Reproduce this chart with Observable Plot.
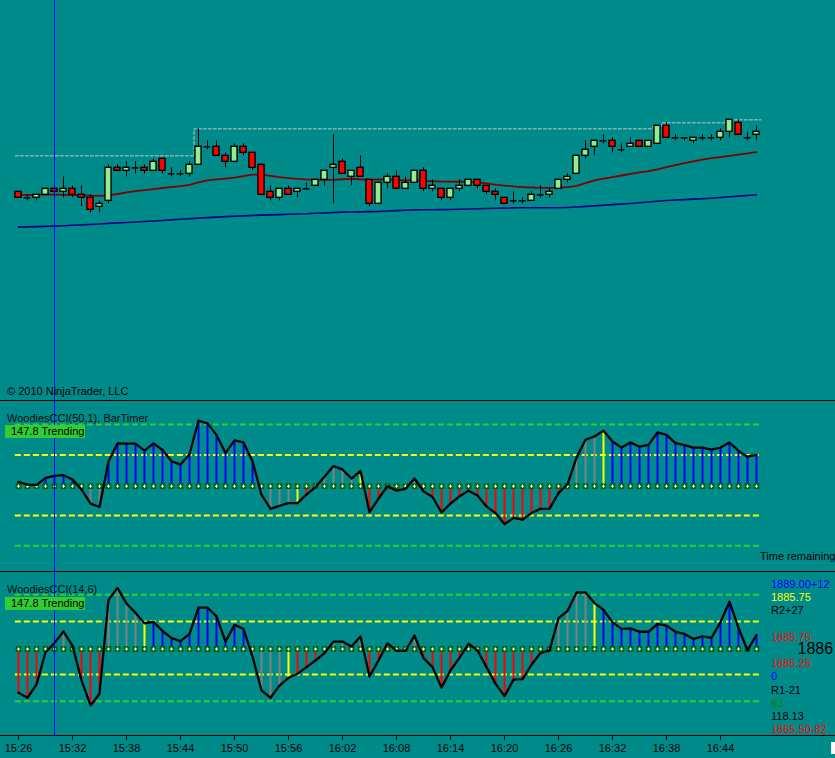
<!DOCTYPE html>
<html><head><meta charset="utf-8">
<script src="https://cdn.jsdelivr.net/npm/d3@7"></script>
<script src="https://cdn.jsdelivr.net/npm/@observablehq/plot@0.6"></script>
<style>
html,body{margin:0;padding:0;background:#008B8B;}
#wrap{position:relative;width:835px;height:758px;overflow:hidden;background:#008B8B;font-family:Arial,"Liberation Sans",sans-serif;font-size:11px;color:#000;}
.sep{height:1px;background:#000;width:835px;}
.lbl{position:absolute;white-space:nowrap;line-height:11px;font-size:11px;}
#wrap svg{display:block}
</style></head><body><div id="wrap"></div>
<script>
// ---- data ----
const tickLabels = ["15:26","15:32","15:38","15:44","15:50","15:56","16:02","16:08","16:14","16:20","16:26","16:32","16:38","16:44"];
const cursorBar = 4;        // 15:30
const priorHigh = 1886.00;
const open = [1883.00,1882.50,1882.50,1882.75,1883.25,1883.00,1883.25,1882.75,1882.50,1881.75,
1882.25,1885.00,1884.75,1885.00,1885.00,1884.75,1885.75,1884.50,1884.50,1884.50,
1885.25,1886.75,1886.75,1886.00,1885.50,1886.75,1886.25,1885.25,1883.00,1882.50,
1883.25,1883.00,1883.25,1883.50,1884.00,1885.00,1885.50,1884.25,1885.00,1884.00,
1882.00,1883.75,1884.25,1883.25,1883.75,1884.75,1883.25,1883.25,1882.50,1883.25,
1883.50,1884.00,1883.50,1883.00,1882.50,1882.25,1882.25,1882.25,1882.75,1882.75,
1883.25,1884.00,1884.50,1886.00,1886.75,1887.25,1887.25,1886.50,1886.75,1887.25,
1886.75,1887.00,1888.50,1887.50,1887.50,1887.25,1887.50,1887.50,1887.50,1888.00,
1888.75,1887.50,1887.75];
const high = [1883.00,1882.75,1882.75,1883.25,1883.25,1884.25,1883.50,1883.50,1882.75,1882.25,
1885.25,1885.25,1885.50,1885.50,1885.25,1885.75,1885.75,1885.00,1884.75,1885.50,
1888.25,1887.25,1887.25,1886.25,1887.00,1887.00,1886.25,1885.25,1883.50,1883.25,
1883.50,1883.25,1883.75,1884.00,1884.75,1887.75,1885.75,1884.75,1886.00,1884.00,
1883.75,1884.50,1884.75,1884.25,1884.75,1885.00,1884.00,1883.25,1883.25,1884.00,
1884.00,1884.00,1883.50,1883.25,1882.50,1883.00,1882.50,1883.00,1883.50,1883.25,
1884.00,1884.50,1886.00,1887.25,1887.25,1887.75,1887.50,1887.00,1887.50,1887.25,
1887.25,1888.50,1888.75,1887.75,1887.50,1887.50,1887.75,1887.75,1888.25,1889.00,
1889.00,1888.00,1888.50];
const low = [1882.50,1882.25,1882.25,1882.75,1883.00,1882.50,1882.50,1881.75,1881.25,1881.25,
1882.00,1884.75,1884.25,1884.50,1884.50,1884.75,1884.50,1884.25,1884.25,1884.25,
1885.25,1886.50,1886.00,1885.00,1885.50,1886.00,1884.75,1882.75,1882.25,1882.25,
1882.75,1882.50,1883.25,1883.50,1883.50,1882.00,1884.50,1883.50,1884.25,1881.75,
1882.00,1883.25,1883.25,1883.25,1883.75,1883.00,1883.00,1882.25,1882.25,1883.00,
1883.50,1883.25,1882.75,1882.25,1882.00,1882.00,1882.00,1882.25,1882.50,1882.50,
1883.25,1883.75,1884.50,1885.75,1886.00,1887.00,1886.25,1886.25,1886.75,1886.75,
1886.75,1887.00,1887.50,1887.25,1887.25,1887.00,1887.25,1887.25,1887.25,1887.50,
1887.75,1887.25,1887.25];
const close = [1882.50,1882.50,1882.75,1883.25,1883.00,1883.25,1882.75,1882.50,1881.50,1882.00,
1885.00,1884.75,1885.00,1885.00,1884.75,1885.50,1884.75,1884.50,1884.50,1885.25,
1886.75,1886.75,1886.00,1885.50,1886.75,1886.25,1885.00,1882.75,1882.50,1883.25,
1882.75,1883.25,1883.25,1884.00,1884.75,1885.25,1884.50,1884.75,1884.25,1882.00,
1883.75,1884.25,1883.25,1883.75,1884.75,1883.25,1883.50,1882.50,1883.25,1883.50,
1884.00,1883.50,1883.00,1882.75,1882.00,1882.25,1882.25,1882.75,1882.75,1883.00,
1884.00,1884.25,1886.00,1886.50,1887.25,1887.25,1886.75,1886.50,1887.00,1886.75,
1887.25,1888.50,1887.50,1887.50,1887.50,1887.50,1887.50,1887.50,1888.00,1889.00,
1887.75,1887.50,1888.00];
const maFast = [1882.75,1882.75,1882.75,1882.76,1882.76,1882.75,1882.73,1882.70,1882.68,1882.67,
1882.70,1882.82,1882.95,1883.05,1883.15,1883.23,1883.32,1883.40,1883.48,1883.58,
1883.78,1883.95,1884.03,1884.10,1884.18,1884.30,1884.43,1884.43,1884.33,1884.23,
1884.15,1884.08,1884.03,1884.00,1884.00,1884.00,1884.05,1884.08,1884.05,1884.00,
1884.03,1884.00,1883.97,1883.95,1883.95,1883.92,1883.88,1883.85,1883.85,1883.84,
1883.83,1883.78,1883.70,1883.60,1883.52,1883.45,1883.40,1883.36,1883.33,1883.33,
1883.33,1883.40,1883.50,1883.72,1883.95,1884.10,1884.23,1884.36,1884.50,1884.62,
1884.73,1884.88,1885.05,1885.22,1885.40,1885.54,1885.68,1885.80,1885.90,1886.00,
1886.10,1886.20,1886.30];
const maSlow = [1880.06,1880.08,1880.10,1880.12,1880.14,1880.17,1880.21,1880.25,1880.28,1880.32,
1880.37,1880.41,1880.45,1880.49,1880.53,1880.57,1880.61,1880.66,1880.71,1880.76,
1880.81,1880.85,1880.89,1880.93,1880.97,1881.00,1881.03,1881.06,1881.08,1881.10,
1881.13,1881.15,1881.17,1881.21,1881.24,1881.28,1881.31,1881.32,1881.33,1881.35,
1881.36,1881.40,1881.43,1881.47,1881.50,1881.51,1881.51,1881.52,1881.53,1881.55,
1881.57,1881.59,1881.61,1881.63,1881.64,1881.66,1881.67,1881.67,1881.67,1881.67,
1881.67,1881.70,1881.74,1881.79,1881.83,1881.88,1881.93,1881.98,1882.03,1882.09,
1882.15,1882.22,1882.28,1882.32,1882.35,1882.39,1882.42,1882.47,1882.53,1882.59,
1882.64,1882.70,1882.75];
const cci50 = [11,2,0,24,31,33,19,-14,-61,-72,
78,138,137,137,114,138,116,79,68,102,
213,204,166,106,148,141,79,-31,-78,-68,
-59,-59,-31,-6,28,63,52,22,47,-89,
-44,-3,-18,-12,22,-20,-39,-90,-61,-37,
-18,-34,-70,-92,-129,-108,-114,-92,-78,-78,
-26,3,91,150,161,180,144,124,141,127,
133,174,166,139,132,124,124,117,124,141,
113,94,100];
const cci50State = "bbbbbbbggg"+"bbbbbbbbbb"+"bbbbbbbggg"+"gyrrggggyr"+"rrrrgrrrrr"+"rrrrrrrrrr"+"rggggybbbb"+"bbbbbbbbbb"+"bbb";
const cci14 = [-168,-187,-137,-16,19,62,9,-122,-216,-172,
181,226,167,132,93,98,64,37,26,53,
152,152,119,24,87,72,-32,-159,-187,-141,
-112,-97,-72,-47,-19,24,24,6,43,-107,
-47,18,-11,-11,47,-38,-72,-149,-84,-37,
16,-9,-72,-134,-181,-119,-117,-63,-19,-9,
112,139,209,209,169,143,97,72,74,61,
61,91,84,61,53,34,44,38,97,174,
76,-9,49];
const cci14State = "rrrrgggrrr"+"ggggybbbbb"+"bbbbbbgggg"+"yrrrrggggr"+"rgrrgrrrrr"+"grrrrrrrrr"+"ggggybbbbb"+"bbbbbbbbbb"+"bgb";
const cciLevels = [200, 100, -100, -200];
const rightLabels = [
  ["1889.00+12","#0000FF"],["1885.75","#FFFF00"],["R2+27","#000"],["",""],["1885.75","#FF0000"],
  ["",""],["1885.25","#FF0000"],["0","#0000FF"],["R1-21","#000"],["63","#008000"],["118.13","#000"],["1865.50-82","#FF0000"]];
const lastPrice = "1886";

// ---- build ----
const stateColor = {b:"#0000FF", r:"#FF0000", g:"#808080", y:"#FFFF00"};
const bars = open.map((o,i)=>({i, open:o, high:high[i], low:low[i], close:close[i],
  maFast:maFast[i], maSlow:maSlow[i], cci50:cci50[i], cci14:cci14[i],
  s50:cci50State[i], s14:cci14State[i]}));
let rm = priorHigh; const step = [];
bars.forEach(d=>{ rm = Math.max(rm, d.high);
  step.push({x: d.i===0 ? -0.35 : d.i-0.5, y: rm}, {x: d.i+0.5, y: rm}); });

const W = 835, teal = "#008B8B";
const xs = {domain:[0,82], range:[18,756]};
const baseStyle = {background:teal, fontFamily:"Arial, 'Liberation Sans', sans-serif", fontSize:"11px", color:"#000", overflow:"visible"};
const wrap = document.getElementById("wrap");

const price = Plot.plot({
  width:W, height:400, margin:0, style:baseStyle,
  x:{...xs, axis:null},
  y:{domain:[1865.611,1898.944], range:[400,0], axis:null},
  color:{type:"identity"},
  marks:[
    Plot.line(step, {x:"x", y:"y", stroke:"#c4c4c4", strokeWidth:1, strokeDasharray:"3,2"}),
    Plot.line(bars, {x:"i", y:"maSlow", stroke:"#000080", strokeWidth:1.6}),
    Plot.line(bars, {x:"i", y:"maFast", stroke:"#800000", strokeWidth:1.8}),
    Plot.ruleX(bars, {x:"i", y1:"low", y2:"high", stroke:"#000", strokeWidth:1}),
    Plot.rect(bars.filter(d=>d.open!==d.close), {x1:d=>d.i-0.34, x2:d=>d.i+0.34, y1:"open", y2:"close",
      fill:d=>d.close>d.open?"#90EE90":"#FF0000", stroke:"#000", strokeWidth:1.4}),
    Plot.ruleY(bars.filter(d=>d.open===d.close), {y:"open", x1:d=>d.i-0.38, x2:d=>d.i+0.38, stroke:"#000", strokeWidth:1.5}),
    Plot.ruleX([cursorBar], {x:d=>d, stroke:"#0000FF", strokeWidth:1})
  ]
});

function cciPanel(key, sKey, h, yDomain, yRange, bottom) {
  return Plot.plot({
    width:W, height:h, marginTop:0, marginLeft:18, marginRight:79, marginBottom:bottom, style:baseStyle,
    x: bottom ? {...xs, ticks: tickLabels.map((t,k)=>k*6), tickFormat:v=>tickLabels[v/6], tickSize:5, label:null} : {...xs, axis:null},
    y:{domain:yDomain, range:yRange, axis:null},
    color:{type:"identity"},
    marks:[
      Plot.ruleY(cciLevels, {y:d=>d, x1:()=>-0.35, x2:()=>82.45, stroke:d=>Math.abs(d)>150?"#32CD32":"#FFFF00", strokeWidth:2, strokeDasharray:"6,3"}),
      Plot.ruleX(bars, {x:"i", y1:()=>0, y2:key, stroke:d=>stateColor[d[sKey]], strokeWidth:2}),
      Plot.dot(bars, {x:"i", y:()=>0, symbol:"square", r:3.2, fill:"#006400", dy:1}),
      Plot.dot(bars, {x:"i", y:()=>0, symbol:"cross", r:1.35, fill:"#FFFFFF", dy:1}),
      Plot.line(bars, {x:"i", y:key, stroke:"#000", strokeWidth:2.3}),
      ...(bottom ? [Plot.ruleY([yDomain[0]], {y:d=>d, x1:()=>-2.1, x2:()=>91, stroke:"#000", strokeWidth:1})] : []),
      Plot.ruleX([cursorBar], {x:d=>d, stroke:"#0000FF", strokeWidth:1})
    ]
  });
}
const p50 = cciPanel("cci50","s50",170,[-284.8,276.2],[170,0],0);
const p14 = cciPanel("cci14","s14",186,[-328.9,283.8],[163,0],23);

const sep = ()=>{const d=document.createElement("div"); d.className="sep"; return d;};
wrap.append(price, sep(), p50, sep(), p14);

function lbl(text, left, top, color, extra) {
  const d = document.createElement("div"); d.className="lbl"; d.textContent=text;
  d.style.left=left+"px"; d.style.top=top+"px"; d.style.color=color||"#000";
  if (extra) Object.assign(d.style, extra);
  wrap.appendChild(d); return d;
}
lbl("© 2010 NinjaTrader, LLC", 7, 385.7, "#000");
lbl("WoodiesCCI(50,1), BarTimer", 7, 413.2, "#0a0a0a");
lbl("147.8 Trending", 5, 424.5, "#000", {background:"#32CD32", width:"74px", height:"13.5px", paddingLeft:"6px", lineHeight:"13.5px"});
lbl("Time remaining", 760, 550.7, "#000");
lbl("WoodiesCCI(14,6)", 7, 584, "#0a0a0a");
lbl("147.8 Trending", 5, 596.5, "#000", {background:"#32CD32", width:"74px", height:"13px", paddingLeft:"6px", lineHeight:"13px"});
const rTops = [579,592,605,0,631.7,0,658,670.7,684.7,697.7,710.7,724];
rightLabels.forEach(([t,c],k)=>{ if (t) lbl(t, 771, rTops[k], c); });
lbl(lastPrice, 797.5, 641.2, "#000", {fontSize:"16px", lineHeight:"16px"});
const wb = document.createElement("div");
Object.assign(wb.style, {position:"absolute", left:"831px", top:"742px", width:"4px", height:"12px", background:"#fff"});
wrap.appendChild(wb);
</script>
</body></html>
